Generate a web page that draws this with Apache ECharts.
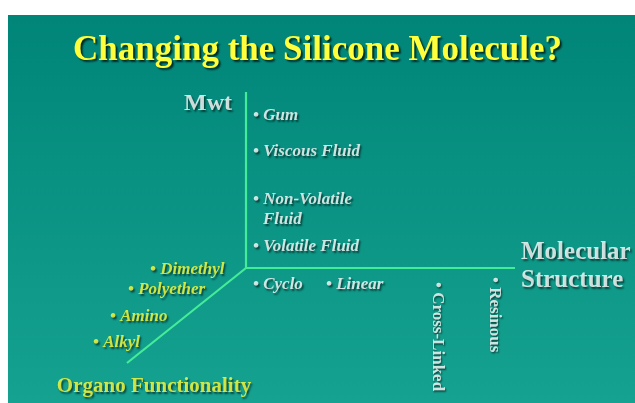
<!DOCTYPE html>
<html>
<head>
<meta charset="utf-8">
<script src="https://cdn.jsdelivr.net/npm/echarts@6/dist/echarts.min.js"></script>
<style>
  html, body { margin: 0; padding: 0; background: #fff; }
  #chart { width: 635px; height: 403px; }
</style>
</head>
<body>
<div id="chart"></div>
<script>
// diagram units: origin where the three axes meet, y grows upward
const axisEnds = { mwt: [0, 176], structure: [269, 0], organo: [-119, -95] };

const mwtLabels = ['Gum', 'Viscous Fluid', 'Non-Volatile\nFluid', 'Volatile Fluid'];
const mwtLevels = [152, 116, 58, 21];

const structureLabels = ['Cyclo', 'Linear'];
const structureSteps = [7, 80];
const structureRow = -17;

const uprightLabels = ['Cross-Linked', 'Resinous'];
const uprightSteps = [191, 248];
const uprightTops = [-14, -9];

const organoLabels = ['Dimethyl', 'Polyether', 'Amino', 'Alkyl'];
const organoX = [-96, -118, -136, -153];
const organoY = [-2, -22, -49, -75];

const axisTitles = ['Mwt', 'Molecular\nStructure', 'Organo Functionality'];
const axisTitlePos = [[-14, 164], [275, 1], [-92, -119]];

const SERIF = '"Liberation Serif", "Times New Roman", serif';
const shadow = {
  textShadowColor: 'rgba(0, 25, 20, 0.85)',
  textShadowBlur: 2,
  textShadowOffsetX: 1.5,
  textShadowOffsetY: 1.5,
};
const bullet = (s) => '\u2022 ' + s.split('\n').join('\n\u2002\u200a');

const chart = echarts.init(document.getElementById('chart'));

const axisLine = (end) => ({
  type: 'line',
  data: [[0, 0], end],
  symbol: 'none',
  silent: true,
  lineStyle: { color: '#45ec98', width: 2.2 },
});

const italicLabel = (color) => ({
  show: true,
  position: 'right',
  distance: 0,
  formatter: (p) => bullet(p.name),
  color: color,
  fontFamily: SERIF,
  fontStyle: 'italic',
  fontWeight: 'bold',
  fontSize: 17,
  lineHeight: 20,
  ...shadow,
});

chart.setOption({
  backgroundColor: '#ffffff',
  animation: false,
  graphic: [{
    type: 'rect',
    silent: true,
    z: -10,
    shape: { x: 8, y: 15, width: 627, height: 388 },
    style: {
      fill: new echarts.graphic.LinearGradient(0, 0, 0, 1, [
        { offset: 0, color: '#008578' },
        { offset: 1, color: '#15a290' },
      ]),
    },
  }],
  title: {
    text: 'Changing the Silicone Molecule?',
    left: 'center',
    top: 28,
    textStyle: {
      color: '#ffff3c',
      fontFamily: SERIF,
      fontWeight: 'bold',
      fontSize: 35,
      ...shadow,
      textShadowOffsetX: 2,
      textShadowOffsetY: 2,
    },
  },
  grid: { left: 0, right: 0, top: 0, bottom: 0 },
  xAxis: { type: 'value', min: -246, max: 389, show: false },
  yAxis: { type: 'value', min: -135, max: 268, show: false },
  series: [
    axisLine(axisEnds.mwt),
    axisLine(axisEnds.structure),
    axisLine(axisEnds.organo),
    {
      type: 'scatter',
      symbolSize: 0,
      silent: true,
      data: mwtLabels.map((t, i) => ({ name: t, value: [7, mwtLevels[i]] })),
      label: italicLabel('#ffffff'),
    },
    {
      type: 'scatter',
      symbolSize: 0,
      silent: true,
      data: structureLabels.map((t, i) => ({ name: t, value: [structureSteps[i], structureRow] })),
      label: italicLabel('#ffffff'),
    },
    {
      type: 'scatter',
      symbolSize: 0,
      silent: true,
      data: uprightLabels.map((t, i) => ({ name: t, value: [uprightSteps[i], uprightTops[i]] })),
      label: {
        show: true,
        position: [0, 0],
        rotate: -90,
        align: 'left',
        verticalAlign: 'middle',
        formatter: (p) => bullet(p.name),
        color: '#ffffff',
        fontFamily: SERIF,
        fontWeight: 'bold',
        fontSize: 17,
        ...shadow,
      },
    },
    {
      type: 'scatter',
      symbolSize: 0,
      silent: true,
      data: organoLabels.map((t, i) => ({ name: t, value: [organoX[i], organoY[i]] })),
      label: italicLabel('#ffff3c'),
    },
    {
      type: 'scatter',
      symbolSize: 0,
      silent: true,
      data: axisTitles.map((t, i) => ({
        name: t,
        value: axisTitlePos[i],
        label: [
          { position: 'left', distance: 0, fontSize: 24, color: '#ffffff' },
          { position: 'right', distance: 0, fontSize: 25, lineHeight: 28, color: '#ffffff' },
          { position: 'inside', fontSize: 21, color: '#ffff3c' },
        ][i],
      })),
      label: {
        show: true,
        formatter: (p) => p.name,
        fontFamily: SERIF,
        fontWeight: 'bold',
        ...shadow,
      },
    },
  ],
});
</script>
</body>
</html>
